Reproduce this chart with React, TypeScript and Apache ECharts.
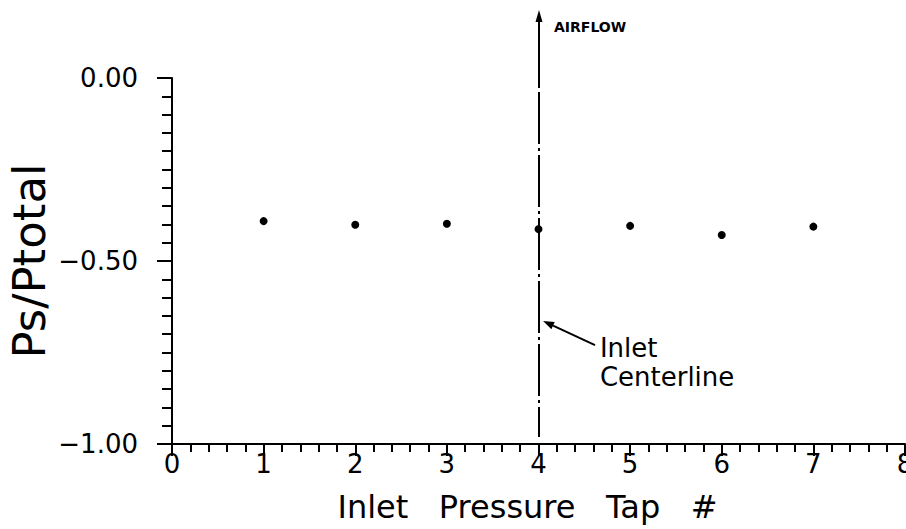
import React, { useEffect, useRef } from "react";
import * as echarts from "echarts";

const tapNumbers = [1, 2, 3, 4, 5, 6, 7];
const pressureRatio = [-0.391, -0.401, -0.398, -0.413, -0.404, -0.429, -0.406];
const xTicks = [0, 1, 2, 3, 4, 5, 6, 7, 8];
const yTicks = [-1.0, -0.5, 0.0];
const centerlineTap = 4;
const FONT = "DejaVu Sans";

export default function App() {
  const ref = useRef<HTMLDivElement>(null);
  useEffect(() => {
    if (!ref.current) return;
    const chart = echarts.init(ref.current, null, { renderer: "svg" });
    const option: any = {
      animation: false,
      backgroundColor: "#ffffff",
      grid: {
        left: 172,
        right: 1,
        top: 78,
        bottom: 85,
        containLabel: false,
        outerBoundsMode: "none",
      },
      xAxis: {
        type: "value",
        min: xTicks[0],
        max: xTicks[xTicks.length - 1],
        interval: 1,
        name: "Inlet   Pressure   Tap   #",
        nameLocation: "middle",
        nameGap: 47,
        nameTextStyle: { fontFamily: FONT, fontSize: 32, color: "#000", padding: [0, 22, 0, 0] },
        axisLine: { show: true, onZero: false, lineStyle: { color: "#000", width: 2 } },
        axisTick: { show: true, inside: false, length: 12, lineStyle: { color: "#000", width: 2 } },
        minorTick: { show: true, splitNumber: 5, length: 8, lineStyle: { color: "#000", width: 2 } },
        splitLine: { show: false },
        axisLabel: { fontFamily: FONT, fontSize: 26, color: "#000", margin: 7 },
      },
      yAxis: {
        type: "value",
        min: yTicks[0],
        max: yTicks[yTicks.length - 1],
        interval: 0.5,
        name: "Ps/Ptotal",
        nameLocation: "middle",
        nameGap: 120,
        nameMoveOverlap: false,
        nameRotate: 90,
        nameTextStyle: { fontFamily: FONT, fontSize: 45, color: "#000" },
        axisLine: { show: true, lineStyle: { color: "#000", width: 2 } },
        axisTick: { show: true, inside: false, length: 15, lineStyle: { color: "#000", width: 2 } },
        minorTick: { show: true, splitNumber: 10, length: 10, lineStyle: { color: "#000", width: 2 } },
        splitLine: { show: false },
        axisLabel: {
          fontFamily: FONT,
          fontSize: 26,
          color: "#000",
          margin: 34,
          formatter: (v: number) => (v < 0 ? "\u2212" + Math.abs(v).toFixed(2) : v.toFixed(2)),
        },
      },
      series: [
        {
          type: "scatter",
          data: tapNumbers.map((t, i) => [t, pressureRatio[i]]),
          symbol: "circle",
          symbolSize: 8,
          itemStyle: { color: "#000", opacity: 1 },
        },
      ],
    };
    chart.setOption(option);

    const px = (x: number, y: number) => chart.convertToPixel({ gridIndex: 0 }, [x, y]) as number[];
    const bottom = px(centerlineTap, -1)[1];
    const top0 = px(centerlineTap, 0)[1];
    const cx = Math.round(px(centerlineTap, 0)[0]);
    const arrowTip = 10;
    const tip = px(4.05, -0.664);
    const tail = px(4.617, -0.73);
    const ang = Math.atan2(tip[1] - tail[1], tip[0] - tail[0]);
    const ah = 11;
    const aw = 4;
    const bx = tip[0] - ah * Math.cos(ang);
    const by = tip[1] - ah * Math.sin(ang);
    const nx = -Math.sin(ang) * aw;
    const ny = Math.cos(ang) * aw;
    const textPos = px(4.67, -0.699);

    chart.setOption({
      graphic: [
        {
          type: "line",
          shape: { x1: cx, y1: arrowTip + 8, x2: cx, y2: top0 + 10 },
          style: { stroke: "#000", lineWidth: 2 },
        },
        {
          type: "line",
          shape: { x1: cx, y1: top0 + 14, x2: cx, y2: bottom - 7 },
          style: { stroke: "#000", lineWidth: 2, lineDash: [52, 4, 3, 4] },
        },
        {
          type: "polygon",
          shape: { points: [[cx, arrowTip], [cx - 3.5, arrowTip + 12], [cx + 3.5, arrowTip + 12]] },
          style: { fill: "#000" },
        },
        {
          type: "text",
          x: cx + 15,
          y: 27,
          style: {
            text: "AIRFLOW",
            fontFamily: FONT,
            fontSize: 14,
            fontWeight: "bold",
            fill: "#000",
            verticalAlign: "middle",
          },
        },
        {
          type: "line",
          shape: { x1: tail[0], y1: tail[1], x2: bx, y2: by },
          style: { stroke: "#000", lineWidth: 2 },
        },
        {
          type: "polygon",
          shape: { points: [[tip[0], tip[1]], [bx + nx, by + ny], [bx - nx, by - ny]] },
          style: { fill: "#000" },
        },
        {
          type: "text",
          x: textPos[0],
          y: textPos[1],
          style: {
            text: "Inlet\nCenterline",
            fontFamily: FONT,
            fontSize: 26,
            lineHeight: 29,
            fill: "#000",
          },
        },
      ],
    });

    return () => chart.dispose();
  }, []);
  return (
    <div
      ref={ref}
      style={{ position: "fixed", left: 0, top: 0, width: 906, height: 529, background: "#fff" }}
    />
  );
}
